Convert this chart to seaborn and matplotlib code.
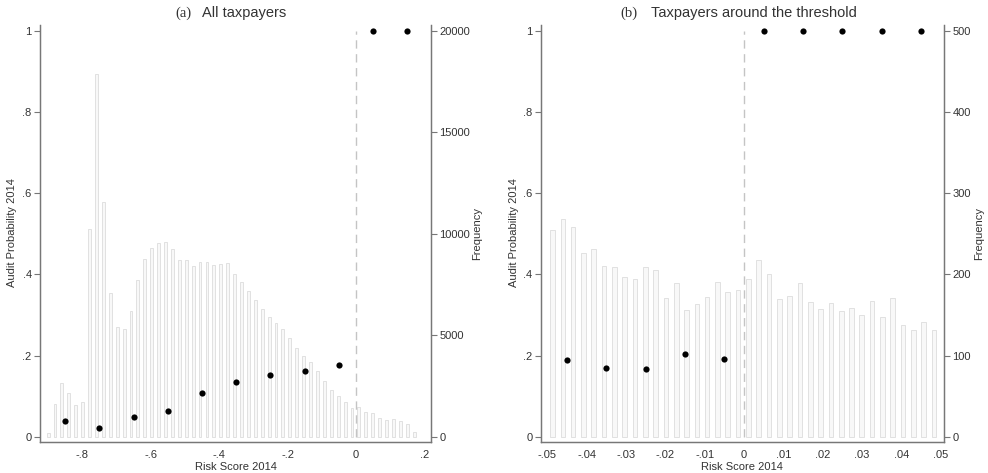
import numpy as np
import pandas as pd
import matplotlib
matplotlib.use("Agg")
import matplotlib.pyplot as plt
import seaborn as sns

# ---- data ----
# panel (a): all taxpayers, histogram of risk score (bin start, bin width, counts)
bin_start_a = -0.9104
bin_width_a = 0.0202
freq_a = [200, 1610, 2660, 2170, 1580, 1700, 10220, 17900, 11550, 7110,
          5430, 5330, 6220, 7740, 8770, 9300, 9540, 9600, 9250, 8720,
          8690, 8420, 8620, 8600, 8460, 8520, 8560, 8030, 7650, 7190,
          6720, 6300, 5880, 5610, 5300, 4860, 4360, 4000, 3690, 3260,
          2760, 2300, 2020, 1710, 1420, 1480, 1230, 1150, 910, 820,
          860, 770, 630, 230]
bins_mid_a = [-0.85, -0.75, -0.65, -0.55, -0.45, -0.35, -0.25, -0.15, -0.05, 0.05, 0.15]
prob_a = [0.040, 0.021, 0.048, 0.063, 0.108, 0.134, 0.153, 0.161, 0.177, 1.0, 1.0]
xticks_a = [-0.8, -0.6, -0.4, -0.2, 0, 0.2]
xticklabels_a = ["-.8", "-.6", "-.4", "-.2", "0", ".2"]

# panel (b): taxpayers around the threshold
bin_start_b = -0.0500
bin_width_b = 0.00262
freq_b = [255, 268, 258, 226, 232, 211, 209, 197, 195, 209,
          205, 171, 189, 156, 163, 172, 191, 178, 181, 194,
          218, 201, 170, 174, 189, 166, 158, 165, 155, 159,
          150, 167, 147, 171, 138, 131, 141, 131]
bins_mid_b = [-0.045, -0.035, -0.025, -0.015, -0.005, 0.005, 0.015, 0.025, 0.035, 0.045]
prob_b = [0.189, 0.169, 0.168, 0.205, 0.191, 1.0, 1.0, 1.0, 1.0, 1.0]
xticks_b = [-0.05, -0.04, -0.03, -0.02, -0.01, 0, 0.01, 0.02, 0.03, 0.04, 0.05]
xticklabels_b = ["-.05", "-.04", "-.03", "-.02", "-.01", "0", ".01", ".02", ".03", ".04", ".05"]

yticks = [0, 0.2, 0.4, 0.6, 0.8, 1.0]
yticklabels = ["0", ".2", ".4", ".6", ".8", "1"]

sns.set_style("white")
plt.rcParams['font.family'] = ['Liberation Sans', 'DejaVu Sans']

W, H = 988, 473
fig = plt.figure(figsize=(W / 100, H / 100), dpi=100)

AXIS_COL = "#777777"
TEXT_COL = "#333333"


def px(x0, y0, x1, y1):
    # pixel box -> figure fraction rect
    return [x0 / W, 1 - y1 / H, (x1 - x0) / W, (y1 - y0) / H]


def draw_panel(rect, bin_start, bin_width, freq, mids, probs, fmax, xlim,
               xticks, xticklabels, rticks, shrink):
    ax = fig.add_axes(rect)
    ax2 = ax.twinx()
    ax.set_zorder(ax2.get_zorder() + 1)
    ax.patch.set_visible(False)

    edges = bin_start + bin_width * np.arange(len(freq) + 1)
    hist_df = pd.DataFrame({"center": edges[:-1] + bin_width / 2, "freq": freq})
    sns.histplot(data=hist_df, x="center", weights="freq", bins=list(edges),
                 shrink=shrink, ax=ax2, color="#f8f8f8", edgecolor="#dcdcdc",
                 linewidth=0.6, alpha=1)

    ax.axvline(0, ymin=0.013 / 1.028, ymax=1.013 / 1.028, color="#c4c4c4",
               linestyle=(0, (6, 4)), linewidth=1.0, zorder=1)
    sns.scatterplot(x=mids, y=probs, ax=ax, color="black", s=20,
                    edgecolor="black", linewidth=0, zorder=3)

    ylo, yhi = -0.013, 1.015
    ax.set_ylim(ylo, yhi)
    ax2.set_ylim(ylo * fmax, yhi * fmax)
    ax.set_xlim(*xlim)

    ax.set_yticks(yticks)
    ax.set_yticklabels(yticklabels)
    ax2.set_yticks(rticks)
    ax2.set_yticklabels([str(t) for t in rticks])
    ax.set_xticks(xticks)
    ax.set_xticklabels(xticklabels)

    for a in (ax, ax2):
        a.spines["top"].set_visible(False)
        for s in ("left", "right", "bottom"):
            a.spines[s].set_color(AXIS_COL)
            a.spines[s].set_linewidth(0.9)
        a.tick_params(axis="both", direction="out", length=4, width=0.8,
                      color=AXIS_COL, labelsize=8, labelcolor=TEXT_COL, pad=2)
        a.set_xlabel("")
        a.set_ylabel("")

    ax.set_xlabel("Risk Score 2014", fontsize=8, color=TEXT_COL, labelpad=1)
    return ax, ax2


draw_panel(px(40, 25, 431, 442), bin_start_a, bin_width_a, freq_a, bins_mid_a, prob_a,
           20000, (-0.924, 0.2196), xticks_a, xticklabels_a,
           [0, 5000, 10000, 15000, 20000], 0.42)
draw_panel(px(540.7, 25, 944, 442), bin_start_b, bin_width_b, freq_b, bins_mid_b, prob_b,
           500, (-0.0517, 0.0508), xticks_b, xticklabels_b,
           [0, 100, 200, 300, 400, 500], 0.45)

# vertical axis titles
for xpx, label in [(12, "Audit Probability 2014"), (477, "Frequency"),
                   (514, "Audit Probability 2014"), (979, "Frequency")]:
    fig.text(xpx / W, 1 - 233 / H, label, rotation=90, fontsize=8,
             color=TEXT_COL, ha="center", va="center")

# panel titles: serif letter + sans text
fig.text(175 / W, 1 - 13 / H, "(a)", family="Liberation Serif", fontsize=10.5,
         color=TEXT_COL, va="center", ha="left")
fig.text(202 / W, 1 - 13 / H, "All taxpayers", fontsize=10.5, color=TEXT_COL,
         va="center", ha="left")
fig.text(620 / W, 1 - 13 / H, "(b)", family="Liberation Serif", fontsize=10.5,
         color=TEXT_COL, va="center", ha="left")
fig.text(651 / W, 1 - 13 / H, "Taxpayers around the threshold", fontsize=10.5,
         color=TEXT_COL, va="center", ha="left")

fig.savefig("out.png", dpi=100)
